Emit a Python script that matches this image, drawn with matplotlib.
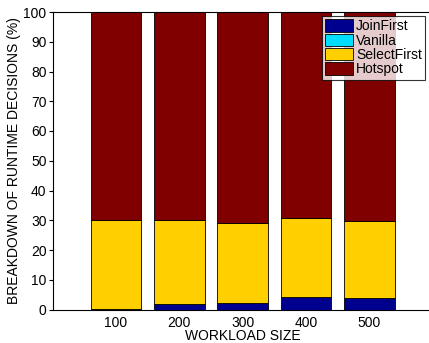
import matplotlib
matplotlib.use("Agg")
import matplotlib.pyplot as plt
import numpy as np

categories = ["100", "200", "300", "400", "500"]
join_first = [0.3, 1.8, 2.1, 4.2, 3.8]
vanilla = [0.0, 0.0, 0.0, 0.0, 0.0]
select_first = [29.8, 28.2, 26.9, 26.7, 25.8]
hotspot = [69.9, 70.0, 71.0, 69.1, 70.4]

series = [("JoinFirst", join_first, "#00008F"),
          ("Vanilla", vanilla, "#00DDFF"),
          ("SelectFirst", select_first, "#FFCF00"),
          ("Hotspot", hotspot, "#800000")]

plt.rcParams['font.family'] = ['Liberation Sans', 'DejaVu Sans']
fig = plt.figure(figsize=(4.29, 3.43), dpi=100)
ax = fig.add_axes([52.7/429, 1 - 309.5/343, (432.5-52.7)/429, (309.5-12)/343])

x = np.arange(1, len(categories) + 1)
bottom = np.zeros(len(categories))
for name, vals, color in series:
    ax.bar(x, vals, width=0.8, bottom=bottom, color=color, edgecolor="black",
           linewidth=0.6, label=name)
    bottom += np.array(vals)

ax.set_xlim(0, 6)
ax.set_ylim(0, 100)
ax.set_xticks(x)
ax.set_xticklabels(categories)
ax.set_yticks(np.arange(0, 101, 10))
ax.tick_params(axis='y', direction='out', length=3, labelsize=10, pad=1.5)
ax.tick_params(axis='x', direction='in', length=0, labelsize=10, pad=5)
ax.set_xlabel("WORKLOAD SIZE", fontsize=10, labelpad=-1)
ax.set_ylabel("BREAKDOWN OF RUNTIME DECISIONS (%)", fontsize=10, labelpad=2)
for s in ax.spines.values():
    s.set_linewidth(0.8)
ax.spines['right'].set_visible(False)

leg = ax.legend(loc='upper left', bbox_to_anchor=((322-52.7)/(432.5-52.7), 1 - (16-12)/(309.5-12)),
                fontsize=10, frameon=True, fancybox=False, edgecolor='black',
                handlelength=2.0, handleheight=1.0, handletextpad=0.2,
                borderpad=0.25, labelspacing=0.02, borderaxespad=0)
leg.get_frame().set_linewidth(0.8)

fig.savefig("out.png", dpi=100)
